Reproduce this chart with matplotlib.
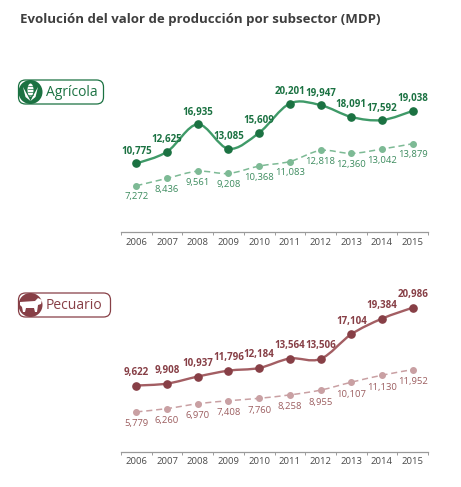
import matplotlib.pyplot as plt
import numpy as np
from matplotlib.path import Path
from matplotlib.patches import PathPatch, FancyBboxPatch, Circle, Ellipse, Polygon

plt.rcParams["font.family"] = ["Open Sans", "DejaVu Sans"]

years = ["2006", "2007", "2008", "2009", "2010", "2011", "2012", "2013", "2014", "2015"]

agri_top = [10775, 12625, 16935, 13085, 15609, 20201, 19947, 18091, 17592, 19038]
agri_low = [7272, 8436, 9561, 9208, 10368, 11083, 12818, 12360, 13042, 13879]

pecu_top = [9622, 9908, 10937, 11796, 12184, 13564, 13506, 17104, 19384, 20986]
pecu_low = [5779, 6260, 6970, 7408, 7760, 8258, 8955, 10107, 11130, 11952]

W, H = 461, 487


def smooth_path(xs, ys):
    pts = np.column_stack([xs, ys]).astype(float)
    n = len(pts)
    verts = [pts[0]]
    codes = [Path.MOVETO]
    for i in range(n - 1):
        p0 = pts[i - 1] if i > 0 else pts[i]
        p1 = pts[i]
        p2 = pts[i + 1]
        p3 = pts[i + 2] if i + 2 < n else pts[i + 1]
        c1 = p1 + (p2 - p0) / 6
        c2 = p2 - (p3 - p1) / 6
        verts += [c1, c2, p2]
        codes += [Path.CURVE4] * 3
    return Path(verts, codes)


def panel(rect, top, low, ymax, dark, line, light, lowtxt, off_top, off_low):
    ax = fig.add_axes(rect)
    x = np.arange(len(years))
    ax.add_patch(PathPatch(smooth_path(x, top), fill=False, edgecolor=line,
                           lw=1.7, zorder=3))
    ax.add_patch(PathPatch(smooth_path(x, low), fill=False, edgecolor=light,
                           lw=1.1, ls=(0, (4, 2.5)), zorder=2))
    ax.plot(x, top, "o", color=dark, ms=5.2, zorder=4)
    ax.plot(x, low, "o", color=light, ms=4, zorder=4)
    for xi, v in zip(x, top):
        ax.annotate(f"{v:,}", (xi, v), xytext=(0, off_top), textcoords="offset pixels",
                    ha="center", va="center", fontsize=7, fontweight="bold", color=dark)
    for xi, v in zip(x, low):
        ax.annotate(f"{v:,}", (xi, v), xytext=(0, -off_low), textcoords="offset pixels",
                    ha="center", va="center", fontsize=6.8, color=lowtxt)
    ax.set_xlim(-0.5, 9.5)
    ax.set_ylim(0, ymax)
    for s in ["top", "right", "left"]:
        ax.spines[s].set_visible(False)
    ax.spines["bottom"].set_color("#9a9a9a")
    ax.spines["bottom"].set_linewidth(0.9)
    ax.set_yticks([])
    ax.set_xticks(x)
    ax.set_xticklabels(years, fontsize=6.8, color="#4a4a4a")
    ax.tick_params(axis="x", which="major", length=0, pad=4)
    ax.set_xticks(np.arange(-0.5, 10, 1), minor=True)
    ax.tick_params(axis="x", which="minor", length=2.5, width=0.7, color="#9a9a9a")
    ax.patch.set_alpha(0)
    return ax


fig = plt.figure(figsize=(W / 100, H / 100), dpi=100)

green = "#1b7242"
green_line = "#3f9a68"
green_l = "#7dba95"
maroon = "#873f46"
maroon_line = "#a35e63"
maroon_l = "#c9a0a3"

panel([121 / W, 1 - 232 / H, 307 / W, 159 / H], agri_top, agri_low, 25000,
      green, green_line, green_l, "#3d8c5f", 12, 11)
panel([121 / W, 1 - 451.5 / H, 307 / W, 159 / H], pecu_top, pecu_low, 23200,
      maroon, maroon_line, maroon_l, "#9c5e60", 13, 12)

# overlay in pixel coordinates for title and badges
ov = fig.add_axes([0, 0, 1, 1])
ov.set_xlim(0, W)
ov.set_ylim(H, 0)
ov.axis("off")
ov.patch.set_alpha(0)

ov.text(20, 19, "Evolución del valor de producción por subsector (MDP)",
        fontsize=9.5, fontweight="bold", color="#3e3e3e", va="center", ha="left")


def badge(y, w, label, color):
    ov.add_patch(FancyBboxPatch((18.5, y - 12), w, 24, boxstyle="round,pad=0,rounding_size=7",
                                fc="white", ec=color, lw=0.9))
    ov.add_patch(Circle((30.5, y), 12, fc=color, ec="none"))
    ov.text(46, y + 0.5, label, fontsize=10, color=color, va="center", ha="left")


badge(92, 85, "Agrícola", green)
badge(305, 92, "Pecuario", maroon)

# corn icon
ov.add_patch(Ellipse((30.5, 90), 6, 13, fc="white", ec="none"))
ov.add_patch(Polygon([(23, 87), (28.5, 97), (30.5, 101), (25.5, 97)], fc="white", ec="none"))
ov.add_patch(Polygon([(38, 87), (32.5, 97), (30.5, 101), (35.5, 97)], fc="white", ec="none"))
for yy in [86, 89, 92, 95]:
    ov.plot([28, 33], [yy, yy], color=green, lw=0.5)

# cow icon
ov.add_patch(Polygon([(20, 302), (35, 301), (38, 298), (42, 300), (41, 304), (38, 305),
                      (37, 312), (35, 312), (34, 308), (26, 308), (25, 312), (23, 312),
                      (22, 307), (20, 305)], fc="white", ec="none"))

fig.savefig("out.png", dpi=100)
